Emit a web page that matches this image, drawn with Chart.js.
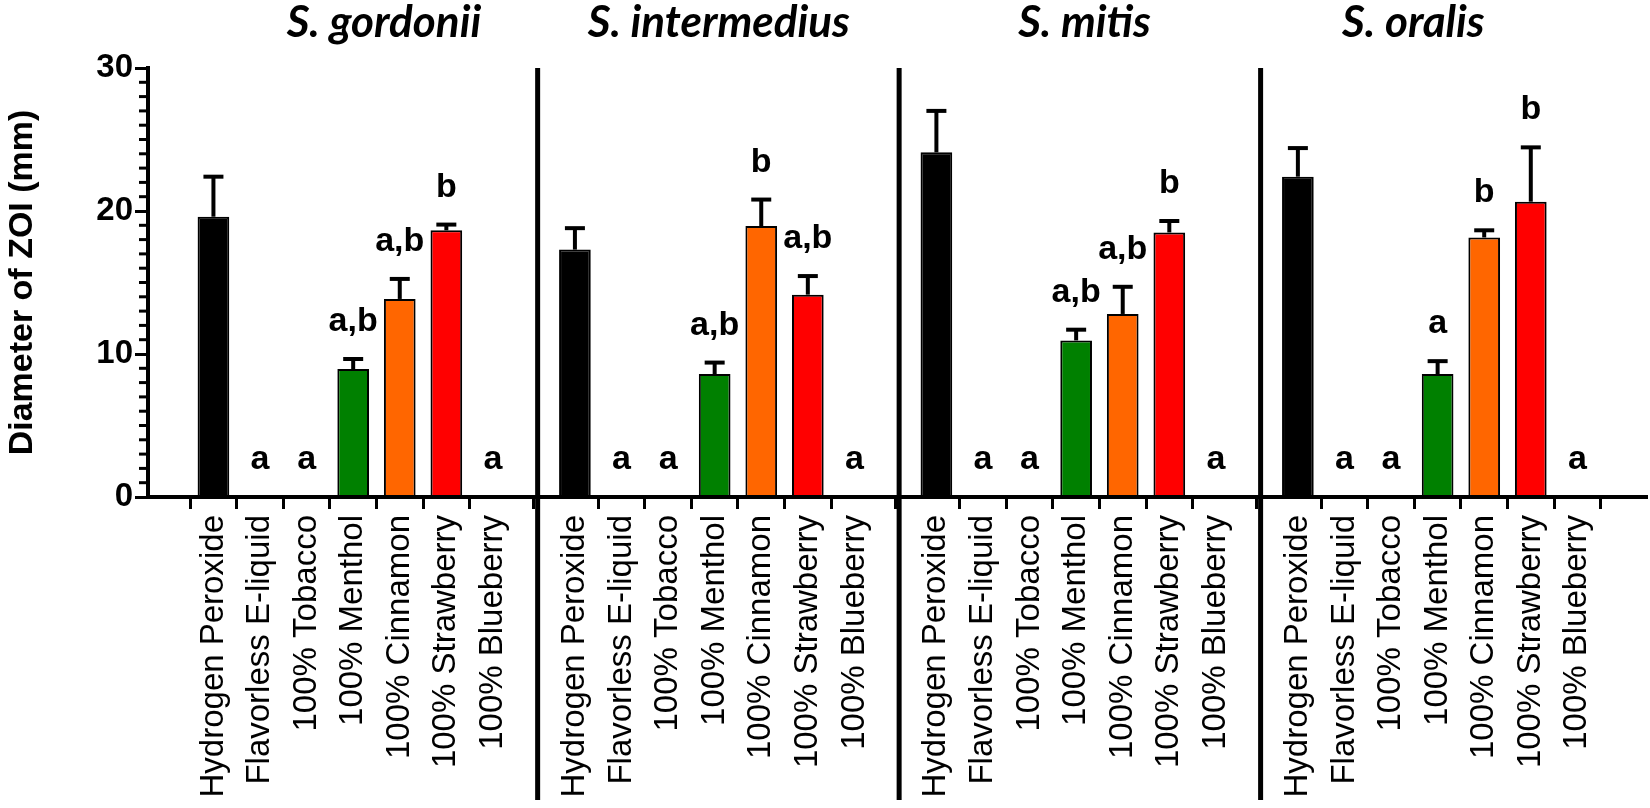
<!DOCTYPE html>
<html>
<head>
<meta charset="utf-8">
<script src="https://cdn.jsdelivr.net/npm/chart.js@4.4.1/dist/chart.umd.min.js"></script>
<style>
    html, body { margin: 0; padding: 0; background: #fff; }
    #wrap { width: 1650px; height: 808px; position: relative; }
</style>
</head>
<body>
<div id="wrap"><canvas id="zoiChart"></canvas></div>
<script>
    // Data
    const species = ['S. gordonii', 'S. intermedius', 'S. mitis', 'S. oralis'];
    const treatments = ['Hydrogen Peroxide', 'Flavorless E-liquid', '100% Tobacco', '100% Menthol', '100% Cinnamon', '100% Strawberry', '100% Blueberry'];

    const gordoniiMean = [19.6, 0, 0, 8.95, 13.85, 18.65, 0];
    const gordoniiSD = [2.8, 0, 0, 0.7, 1.4, 0.4, 0];
    const gordoniiLetters = ['', 'a', 'a', 'a,b', 'a,b', 'b', 'a'];

    const intermediusMean = [17.3, 0, 0, 8.6, 18.95, 14.15, 0];
    const intermediusSD = [1.5, 0, 0, 0.8, 1.85, 1.3, 0];
    const intermediusLetters = ['', 'a', 'a', 'a,b', 'b', 'a,b', 'a'];

    const mitisMean = [24.1, 0, 0, 10.95, 12.8, 18.5, 0];
    const mitisSD = [2.9, 0, 0, 0.75, 1.9, 0.8, 0];
    const mitisLetters = ['', 'a', 'a', 'a,b', 'a,b', 'b', 'a'];

    const oralisMean = [22.4, 0, 0, 8.6, 18.15, 20.65, 0];
    const oralisSD = [2.0, 0, 0, 0.9, 0.5, 3.8, 0];
    const oralisLetters = ['', 'a', 'a', 'a', 'b', 'b', 'a'];

    const yTicks = [0, 10, 20, 30];

    // Layout / style
    const means = [gordoniiMean, intermediusMean, mitisMean, oralisMean];
    const sds = [gordoniiSD, intermediusSD, mitisSD, oralisSD];
    const letters = [gordoniiLetters, intermediusLetters, mitisLetters, oralisLetters];
    const barColors = ['#000000', '#ffffff', '#ffffff', '#008000', '#ff6600', '#ff0000', '#ffffff'];
    const PANEL_STEP = 7.76;
    const SEP_OFFSET = -0.8;
    const titlePos = [3.66, 10.85, 18.7, 25.76];

    const points = [];
    const pointColors = [];
    const tickPositions = [];
    means.forEach((arr, p) => {
        arr.forEach((v, i) => {
            const xv = p * PANEL_STEP + i;
            points.push({ x: xv, y: v, sd: sds[p][i], letter: letters[p][i] });
            pointColors.push(barColors[i]);
            tickPositions.push(xv);
        });
    });

    Chart.defaults.font.family = '"Liberation Sans", Arial, sans-serif';
    Chart.defaults.color = '#000';

    // Error bars, letters, separators, minor ticks, titles
    const extrasPlugin = {
        id: 'extras',
        afterDatasetsDraw(chart) {
            const ctx = chart.ctx;
            const xs = chart.scales.x;
            const ys = chart.scales.y;
            const area = chart.chartArea;
            ctx.save();
            ctx.strokeStyle = '#000';
            ctx.fillStyle = '#000';

            // x axis line over bar bottoms
            ctx.lineWidth = 4;
            ctx.beginPath();
            ctx.moveTo(area.left - 2, area.bottom);
            ctx.lineTo(area.right, area.bottom);
            ctx.stroke();

            // minor ticks on y
            ctx.lineWidth = 3;
            for (let v = 0; v <= 30; v++) {
                if (v % 10 === 0) continue;
                const y = ys.getPixelForValue(v);
                ctx.beginPath();
                ctx.moveTo(area.left - 9, y);
                ctx.lineTo(area.left, y);
                ctx.stroke();
            }

            // error bars (upper only)
            points.forEach(pt => {
                if (pt.sd <= 0) return;
                const x = xs.getPixelForValue(pt.x);
                const yb = ys.getPixelForValue(pt.y);
                const yt = ys.getPixelForValue(pt.y + pt.sd);
                ctx.lineWidth = 4;
                ctx.beginPath();
                ctx.moveTo(x, yb);
                ctx.lineTo(x, yt);
                ctx.stroke();
                ctx.beginPath();
                ctx.moveTo(x - 10, yt);
                ctx.lineTo(x + 10, yt);
                ctx.stroke();
            });

            // significance letters
            ctx.font = 'bold 34px "Liberation Sans", Arial, sans-serif';
            ctx.textAlign = 'center';
            ctx.textBaseline = 'alphabetic';
            points.forEach(pt => {
                if (!pt.letter) return;
                const x = xs.getPixelForValue(pt.x);
                const yt = ys.getPixelForValue(pt.y + pt.sd);
                ctx.fillText(pt.letter, x, yt - 28);
            });

            // panel separators
            ctx.lineWidth = 5;
            for (let p = 1; p < species.length; p++) {
                const x = xs.getPixelForValue(p * PANEL_STEP + SEP_OFFSET);
                ctx.beginPath();
                ctx.moveTo(x, ys.getPixelForValue(30));
                ctx.lineTo(x, chart.height - 8);
                ctx.stroke();
            }

            // species titles
            ctx.font = 'italic bold 44px Lato, "Open Sans", sans-serif';
            species.forEach((name, p) => {
                ctx.fillText(name, xs.getPixelForValue(titlePos[p]), 37);
            });
            ctx.restore();
        }
    };

    const ctx = document.getElementById('zoiChart').getContext('2d');
    new Chart(ctx, {
        type: 'bar',
        data: {
            datasets: [{
                data: points,
                backgroundColor: pointColors,
                borderColor: '#000',
                borderWidth: (c) => (c.raw && c.raw.y > 0 ? 2 : 0),
                borderSkipped: 'start',
                categoryPercentage: 1,
                barPercentage: 0.68
            }]
        },
        options: {
            responsive: true,
            maintainAspectRatio: false,
            animation: false,
            layout: { padding: { top: 68, right: 3, left: 0, bottom: 0 } },
            plugins: {
                legend: { display: false },
                tooltip: { enabled: false }
            },
            scales: {
                x: {
                    type: 'linear',
                    min: -0.83,
                    max: 30.2,
                    afterBuildTicks: (scale) => {
                        scale.ticks = tickPositions.map(v => ({ value: v }));
                    },
                    afterFit: (scale) => { scale.height = 311; },
                    border: { display: true, color: '#000', width: 4 },
                    grid: {
                        drawOnChartArea: false,
                        drawTicks: true,
                        tickLength: 12,
                        tickWidth: 3,
                        tickColor: '#000'
                    },
                    ticks: {
                        autoSkip: false,
                        minRotation: 90,
                        maxRotation: 90,
                        padding: 6,
                        color: '#000',
                        font: { size: 33 },
                        callback: (value, index) => treatments[index % treatments.length]
                    }
                },
                y: {
                    min: 0,
                    max: 30,
                    afterBuildTicks: (scale) => {
                        scale.ticks = yTicks.map(v => ({ value: v }));
                    },
                    afterFit: (scale) => { scale.width = 148; },
                    border: { display: true, color: '#000', width: 4 },
                    grid: {
                        drawOnChartArea: false,
                        drawTicks: true,
                        tickLength: 13,
                        tickWidth: 3,
                        tickColor: '#000'
                    },
                    ticks: {
                        padding: 2,
                        color: '#000',
                        font: { size: 33, weight: 'bold' }
                    },
                    title: {
                        display: true,
                        text: 'Diameter of ZOI (mm)',
                        color: '#000',
                        font: { size: 34, weight: 'bold' },
                        padding: { top: 2, bottom: 0 }
                    }
                }
            }
        },
        plugins: [extrasPlugin]
    });
</script>
</body>
</html>
